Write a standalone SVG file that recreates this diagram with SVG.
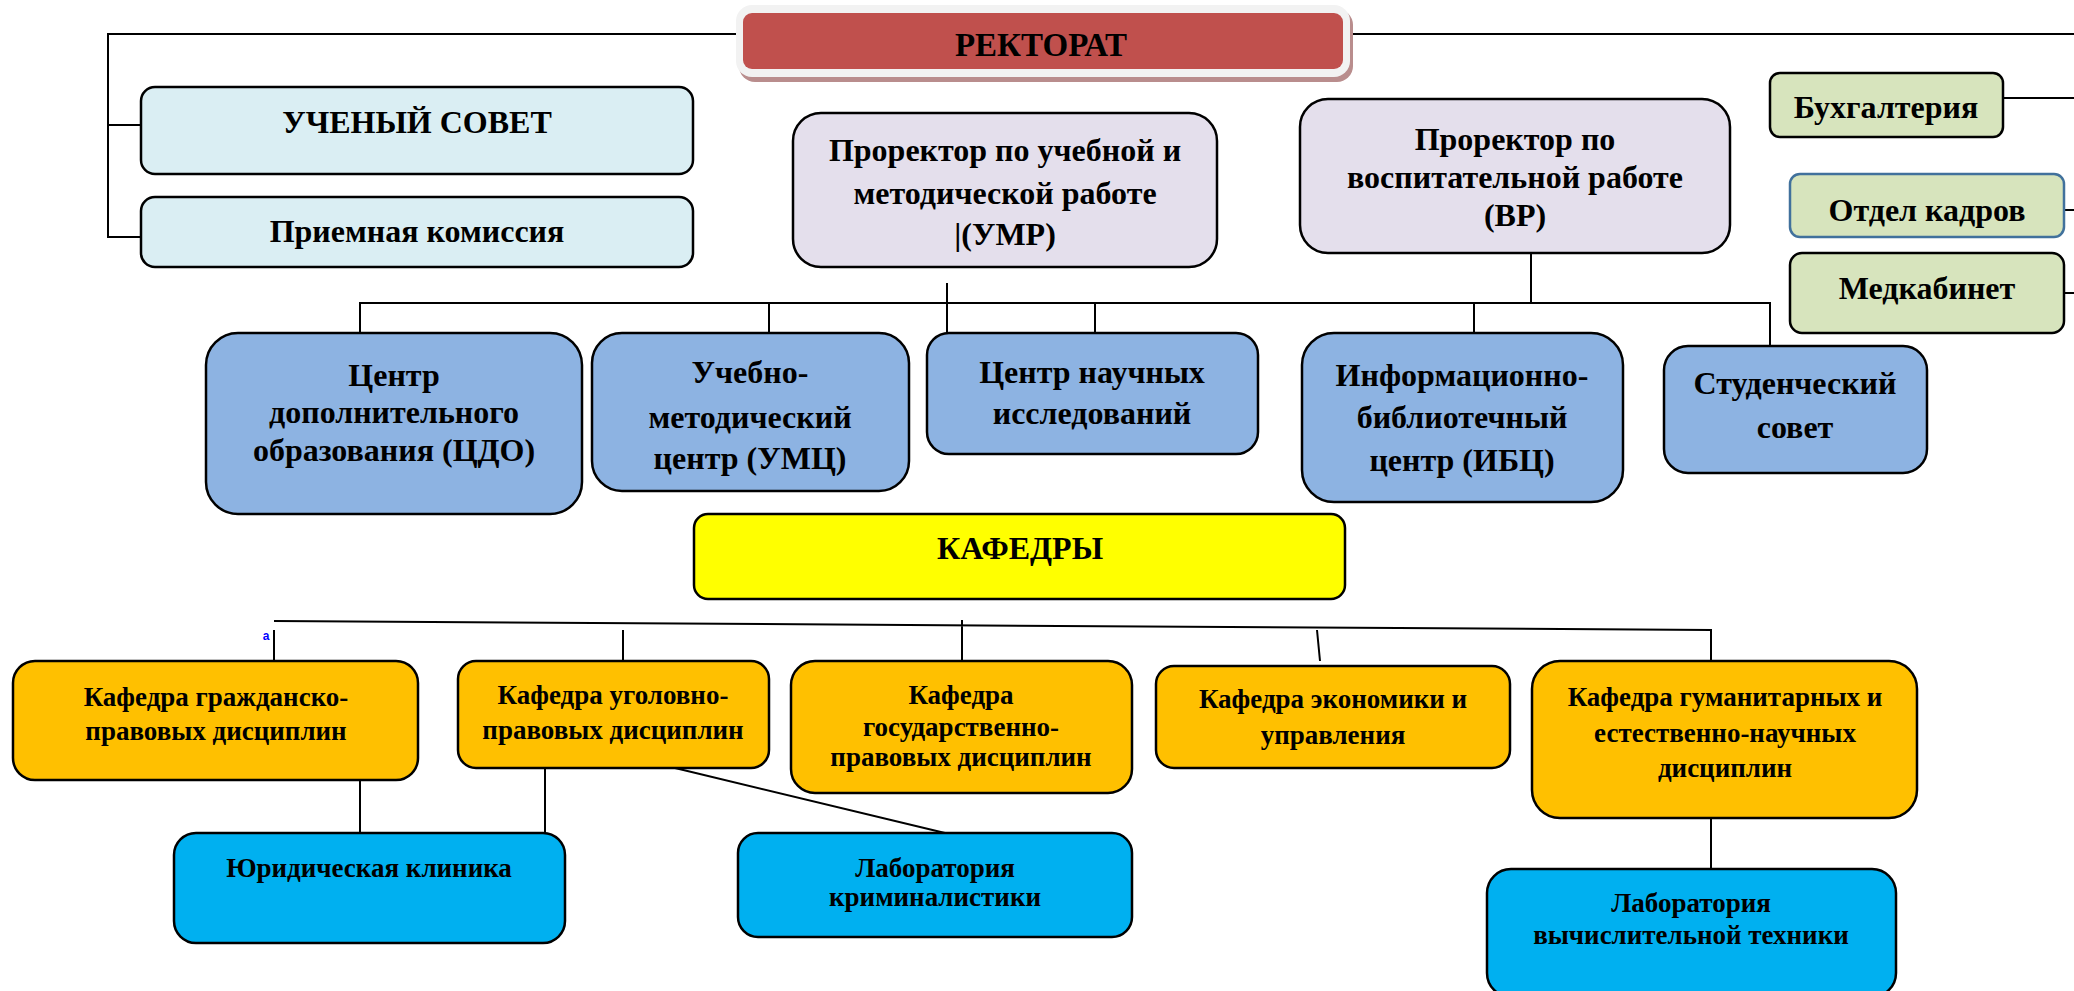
<svg xmlns="http://www.w3.org/2000/svg" width="2074" height="991" viewBox="0 0 2074 991">
<style>
.b{stroke:#000;stroke-width:2.5}
.t{font-family:"Liberation Serif","Times New Roman",serif;font-weight:bold;fill:#000;text-anchor:middle}
.f33{font-size:33px}
.f32{font-size:32px}
.f27{font-size:27px}
.c{fill:none;stroke:#000;stroke-width:2}
</style>
<rect width="2074" height="991" fill="#fff"/>
<g id="connectors">
<path class="c" d="M738,34 H108 V237 H141 M108,125 H141"/>
<path class="c" d="M1350,34 H2074"/>
<path class="c" d="M2003,98 H2074 M2064,210 H2074 M2064,293 H2074"/>
<path class="c" d="M360,333 V303 H1770 V346 M769,303 V333 M1095,303 V333 M1474,303 V333 M947,283 V333 M1531,253 V303"/>
<path class="c" d="M274,621 L1711,630 V661 M274,630 V661 M623,630 V661 M962,620 V661 M1317,630 L1320,661 M1711,818 V869"/>
<path class="c" d="M360,780 V833 M545,768 V833 M675,768 L945,833"/>
</g>
<g id="rektorat">
<rect x="739" y="9" width="614" height="73" rx="16" fill="#b98d8d"/>
<rect x="736" y="5" width="614" height="72" rx="16" fill="#f2f2f2"/>
<rect x="743" y="13" width="600" height="56" rx="9" fill="#c0504d"/>
<text class="t f33" x="1041" y="56">РЕКТОРАТ</text>
</g>
<g id="uchenyi-sovet">
<rect class="b" x="141" y="87" width="552" height="87" rx="14" fill="#daeef3"/>
<text class="t f32" x="417" y="133">УЧЕНЫЙ СОВЕТ</text>
</g>
<g id="priemnaya">
<rect class="b" x="141" y="197" width="552" height="70" rx="14" fill="#daeef3"/>
<text class="t f32" x="417" y="242">Приемная комиссия</text>
</g>
<g id="prorektor-umr">
<rect class="b" x="793" y="113" width="424" height="154" rx="28" fill="#e4dfec"/>
<text class="t f32" x="1005" y="161">Проректор по учебной и</text>
<text class="t f32" x="1005" y="204">методической работе</text>
<text class="t f32" x="1005" y="245">|(УМР)</text>
</g>
<g id="prorektor-vr">
<rect class="b" x="1300" y="99" width="430" height="154" rx="28" fill="#e4dfec"/>
<text class="t f32" x="1515" y="150">Проректор по</text>
<text class="t f32" x="1515" y="188">воспитательной работе</text>
<text class="t f32" x="1515" y="226">(ВР)</text>
</g>
<g id="buhgalteriya">
<rect class="b" x="1770" y="73" width="233" height="64" rx="10" fill="#d7e4bd"/>
<text class="t f32" x="1886" y="118">Бухгалтерия</text>
</g>
<g id="otdel-kadrov">
<rect x="1790" y="174" width="274" height="63" rx="10" fill="#d7e4bd" stroke="#41719c" stroke-width="2.5"/>
<text class="t f32" x="1927" y="221">Отдел кадров</text>
</g>
<g id="medkabinet">
<rect class="b" x="1790" y="253" width="274" height="80" rx="12" fill="#d7e4bd"/>
<text class="t f32" x="1927" y="299">Медкабинет</text>
</g>
<g id="cdo">
<rect class="b" x="206" y="333" width="376" height="181" rx="32" fill="#8db3e2"/>
<text class="t f32" x="394" y="386">Центр</text>
<text class="t f32" x="394" y="423">дополнительного</text>
<text class="t f32" x="394" y="461">образования (ЦДО)</text>
</g>
<g id="umc">
<rect class="b" x="592" y="333" width="317" height="158" rx="30" fill="#8db3e2"/>
<text class="t f32" x="750" y="383">Учебно-</text>
<text class="t f32" x="750" y="428">методический</text>
<text class="t f32" x="750" y="469">центр (УМЦ)</text>
</g>
<g id="cni">
<rect class="b" x="927" y="333" width="331" height="121" rx="22" fill="#8db3e2"/>
<text class="t f32" x="1092" y="383">Центр научных</text>
<text class="t f32" x="1092" y="424">исследований</text>
</g>
<g id="ibc">
<rect class="b" x="1302" y="333" width="321" height="169" rx="32" fill="#8db3e2"/>
<text class="t f32" x="1462" y="386">Информационно-</text>
<text class="t f32" x="1462" y="428">библиотечный</text>
<text class="t f32" x="1462" y="471">центр (ИБЦ)</text>
</g>
<g id="stud-sovet">
<rect class="b" x="1664" y="346" width="263" height="127" rx="24" fill="#8db3e2"/>
<text class="t f32" x="1795" y="394">Студенческий</text>
<text class="t f32" x="1795" y="438">совет</text>
</g>
<g id="kafedry">
<rect class="b" x="694" y="514" width="651" height="85" rx="14" fill="#ffff00"/>
<text class="t f32" x="1020" y="559">КАФЕДРЫ</text>
</g>
<text x="266" y="640" font-family="Liberation Sans,Arial,sans-serif" font-weight="bold" font-size="12" fill="#0000ff" text-anchor="middle">a</text>
<g id="kaf-grazhd">
<rect class="b" x="13" y="661" width="405" height="119" rx="22" fill="#ffc000"/>
<text class="t f27" x="216" y="706">Кафедра гражданско-</text>
<text class="t f27" x="216" y="740">правовых дисциплин</text>
</g>
<g id="kaf-ugol">
<rect class="b" x="458" y="661" width="311" height="107" rx="18" fill="#ffc000"/>
<text class="t f27" x="613" y="704">Кафедра уголовно-</text>
<text class="t f27" x="613" y="739">правовых дисциплин</text>
</g>
<g id="kaf-gos">
<rect class="b" x="791" y="661" width="341" height="132" rx="24" fill="#ffc000"/>
<text class="t f27" x="961" y="704">Кафедра</text>
<text class="t f27" x="961" y="736">государственно-</text>
<text class="t f27" x="961" y="766">правовых дисциплин</text>
</g>
<g id="kaf-econ">
<rect class="b" x="1156" y="666" width="354" height="102" rx="18" fill="#ffc000"/>
<text class="t f27" x="1333" y="708">Кафедра экономики и</text>
<text class="t f27" x="1333" y="744">управления</text>
</g>
<g id="kaf-gum">
<rect class="b" x="1532" y="661" width="385" height="157" rx="28" fill="#ffc000"/>
<text class="t f27" x="1725" y="706">Кафедра гуманитарных и</text>
<text class="t f27" x="1725" y="742">естественно-научных</text>
<text class="t f27" x="1725" y="777">дисциплин</text>
</g>
<g id="yur-klinika">
<rect class="b" x="174" y="833" width="391" height="110" rx="22" fill="#00b0f0"/>
<text class="t f27" x="369" y="877">Юридическая клиника</text>
</g>
<g id="lab-krim">
<rect class="b" x="738" y="833" width="394" height="104" rx="20" fill="#00b0f0"/>
<text class="t f27" x="935" y="877">Лаборатория</text>
<text class="t f27" x="935" y="906">криминалистики</text>
</g>
<g id="lab-vt">
<rect class="b" x="1487" y="869" width="409" height="128" rx="24" fill="#00b0f0"/>
<text class="t f27" x="1691" y="912">Лаборатория</text>
<text class="t f27" x="1691" y="944">вычислительной техники</text>
</g>
</svg>
